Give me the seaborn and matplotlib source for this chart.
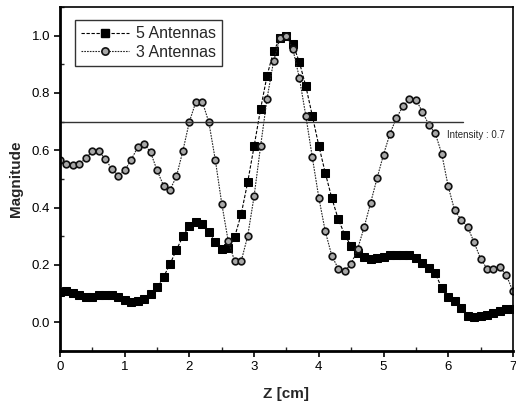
import numpy as np
import pandas as pd
import seaborn as sns
import matplotlib
matplotlib.use("Agg")
import matplotlib.pyplot as plt
from matplotlib.ticker import MultipleLocator
from matplotlib.lines import Line2D

z = [round(0.1 * i, 1) for i in range(71)]

ant5 = [0.106, 0.110, 0.102, 0.094, 0.088, 0.087, 0.094, 0.096, 0.094, 0.087,
        0.079, 0.072, 0.073, 0.082, 0.100, 0.122, 0.158, 0.203, 0.253, 0.300,
        0.337, 0.350, 0.343, 0.314, 0.279, 0.255, 0.258, 0.298, 0.377, 0.488,
        0.614, 0.744, 0.860, 0.945, 0.990, 1.000, 0.970, 0.907, 0.823, 0.720,
        0.616, 0.521, 0.434, 0.360, 0.306, 0.265, 0.241, 0.228, 0.220, 0.223,
        0.229, 0.235, 0.236, 0.236, 0.234, 0.224, 0.208, 0.191, 0.171, 0.120,
        0.090, 0.076, 0.051, 0.023, 0.020, 0.022, 0.024, 0.033, 0.041, 0.047,
        0.046]

ant3 = [0.565, 0.552, 0.547, 0.552, 0.573, 0.596, 0.596, 0.570, 0.535, 0.512,
        0.530, 0.567, 0.610, 0.623, 0.593, 0.530, 0.477, 0.462, 0.509, 0.599,
        0.700, 0.769, 0.769, 0.698, 0.567, 0.414, 0.283, 0.213, 0.213, 0.300,
        0.440, 0.614, 0.780, 0.910, 0.990, 1.000, 0.952, 0.852, 0.719, 0.575,
        0.435, 0.317, 0.233, 0.187, 0.178, 0.204, 0.256, 0.331, 0.416, 0.502,
        0.585, 0.658, 0.713, 0.753, 0.779, 0.777, 0.735, 0.689, 0.659, 0.588,
        0.474, 0.390, 0.358, 0.333, 0.279, 0.222, 0.187, 0.187, 0.192, 0.164,
        0.108]

series_names = ["5 Antennas", "3 Antennas"]
threshold = 0.7
threshold_label = "Intensity : 0.7"
threshold_end = 6.23

sns.set_style("ticks")
plt.rcParams["font.family"] = ["Liberation Sans", "DejaVu Sans"]

fig = plt.figure(figsize=(5.16, 4.07), dpi=100)
ax = fig.add_axes([0.1163, 0.1376, 0.994 - 0.1163, 0.983 - 0.1376])

df5 = pd.DataFrame({"z": z, "m": ant5})
df3 = pd.DataFrame({"z": z, "m": ant3})

sns.lineplot(data=df5, x="z", y="m", ax=ax, color="black", lw=0.8,
             marker="s", markersize=5.5, markerfacecolor="black",
             markeredgecolor="black", dashes=False, legend=False)
ax.lines[-1].set_dashes([3, 1.5])
sns.lineplot(data=df3, x="z", y="m", ax=ax, color="#222222", lw=0.8,
             marker="o", markersize=4.8, markerfacecolor="#a8a8a8",
             markeredgecolor="#111111", markeredgewidth=1.2, legend=False)
ax.lines[-1].set_dashes([1.5, 1])

ax.plot([0, threshold_end], [threshold, threshold], color="#333333", lw=1.0)
ax.text(5.98, 0.652, threshold_label, fontsize=7, va="center", ha="left")

ax.set_xlim(0, 7)
ax.set_ylim(-0.1, 1.1)
ax.xaxis.set_major_locator(MultipleLocator(1))
ax.xaxis.set_minor_locator(MultipleLocator(0.5))
ax.yaxis.set_major_locator(MultipleLocator(0.2))
ax.yaxis.set_minor_locator(MultipleLocator(0.1))
ax.yaxis.set_major_formatter(matplotlib.ticker.FormatStrFormatter("%.1f"))
ax.tick_params(which="major", direction="out", length=4, width=1.2,
               labelsize=9.5, colors="black", pad=3)
ax.tick_params(which="minor", direction="in", length=3, width=1.0)

ax.set_xlabel("Z [cm]", fontsize=11, fontweight="bold", labelpad=10)
ax.set_ylabel("Magnitude", fontsize=11, fontweight="bold", labelpad=6)

for side in ["left", "bottom"]:
    ax.spines[side].set_linewidth(2.0)
for side in ["top", "right"]:
    ax.spines[side].set_visible(True)
    ax.spines[side].set_linewidth(1.2)
for s in ax.spines.values():
    s.set_color("black")

handles = [
    Line2D([], [], color="black", lw=0.8, dashes=[3, 1.5], marker="s",
           markersize=6, markerfacecolor="black"),
    Line2D([], [], color="#222222", lw=0.8, dashes=[1.5, 1], marker="o",
           markersize=5.2, markerfacecolor="#a8a8a8", markeredgecolor="#111111",
           markeredgewidth=1.2),
]
leg = ax.legend(handles, series_names, loc="upper left",
                bbox_to_anchor=(0.033, 0.962), borderaxespad=0,
                fontsize=11.5, frameon=True,
                fancybox=False, edgecolor="black", handlelength=3.0,
                borderpad=0.4, labelspacing=0.2, handletextpad=0.4)
leg.get_frame().set_linewidth(1.0)

fig.savefig("out.png", dpi=100)
